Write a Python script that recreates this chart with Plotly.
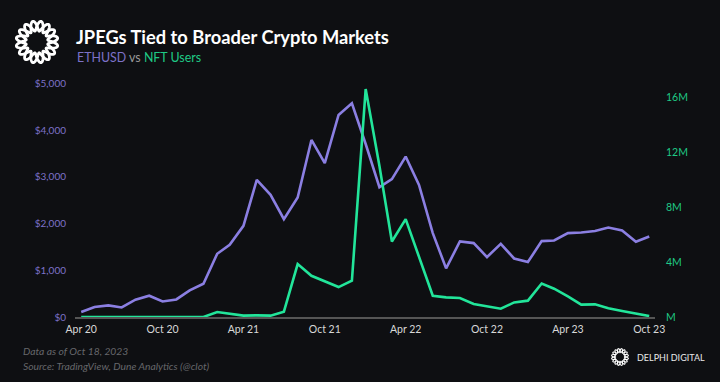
import numpy as np
import pandas as pd
import plotly.graph_objects as go

# ---------------- data ----------------
months = pd.date_range("2020-04-01", "2023-10-01", freq="MS")
eth_usd = [107, 214, 248, 205, 370, 455, 333, 376, 568, 711,
           1353, 1545, 1950, 2934, 2613, 2094, 2556, 3788, 3290, 4322,
           4572, 3700, 2778, 2949, 3432, 2827, 1795, 1040, 1615, 1581,
           1282, 1566, 1252, 1175, 1624, 1637, 1795, 1808, 1838, 1915,
           1850, 1609, 1722]
nft_users_m = [0, 0, 0, 0, 0, 0, 0, 0, 0, 0,
               0.36, 0.22, 0.10, 0.12, 0.10, 0.39, 3.85, 3.0, 2.6, 2.18,
               2.64, 16.6, 11.0, 5.5, 7.13, 4.33, 1.55, 1.43, 1.38, 0.95,
               0.77, 0.60, 1.06, 1.19, 2.44, 2.06, 1.50, 0.90, 0.92, 0.63,
               0.44, 0.26, 0.07]
nft_users = [v * 1e6 for v in nft_users_m]

x_tick_vals = ["2020-04-01", "2020-10-01", "2021-04-01", "2021-10-01",
               "2022-04-01", "2022-10-01", "2023-04-01", "2023-10-01"]
x_tick_text = ["Apr 20", "Oct 20", "Apr 21", "Oct 21", "Apr 22", "Oct 22", "Apr 23", "Oct 23"]
left_tick_vals = [0, 1000, 2000, 3000, 4000, 5000]
left_tick_text = ["$0", "$1,000", "$2,000", "$3,000", "$4,000", "$5,000"]
right_tick_vals = [0, 4e6, 8e6, 12e6, 16e6]
right_tick_text = ["M", "4M", "8M", "12M", "16M"]

# ---------------- style ----------------
BG = "#0e0f12"
PURPLE = "#8b7fe2"
PURPLE_TXT = "#7d72c8"
GREEN = "#22e59a"
GREEN_TXT = "#1fc985"
FONT = "Lato"

W, H = 720, 382
ML, MR, MT, MB = 75, 65, 80, 65
PW, PH = W - ML - MR, H - MT - MB

fig = go.Figure()
fig.add_trace(go.Scatter(x=months, y=eth_usd, mode="lines", name="ETHUSD",
                         line=dict(color=PURPLE, width=2.6)))
fig.add_trace(go.Scatter(x=months, y=nft_users, mode="lines", name="NFT Users",
                         yaxis="y2", line=dict(color=GREEN, width=2.6)))

fig.update_layout(
    width=W, height=H,
    margin=dict(l=ML, r=MR, t=MT, b=MB),
    paper_bgcolor=BG, plot_bgcolor=BG,
    showlegend=False,
    font=dict(family=FONT, color="#cfcfcf"),
    xaxis=dict(
        type="date",
        range=["2020-03-18", "2023-10-14"],
        tickvals=x_tick_vals, ticktext=x_tick_text,
        tickfont=dict(size=10.5, color="#d8d8d8"),
        showgrid=False, zeroline=False,
        showline=True, linecolor="#555555", linewidth=1.5,
        ticks="", ticklabelstandoff=2,
    ),
    yaxis=dict(
        range=[0, 5070],
        tickvals=left_tick_vals, ticktext=left_tick_text,
        tickfont=dict(size=10, color=PURPLE_TXT),
        showgrid=False, zeroline=False, showline=False, ticks="",
        ticklabelstandoff=8,
    ),
    yaxis2=dict(
        range=[0, 17.26e6], overlaying="y", side="right",
        tickvals=right_tick_vals, ticktext=right_tick_text,
        tickfont=dict(size=10.5, color=GREEN_TXT),
        showgrid=False, zeroline=False, showline=False, ticks="",
        ticklabelstandoff=10,
    ),
)

def px2paper(px, py):
    return (px - ML) / PW, (H - MB - py) / PH

# title & subtitle
tx, ty = px2paper(74, 37)
fig.add_annotation(x=tx, y=ty, xref="paper", yref="paper", xanchor="left", yanchor="middle",
                   text="<b>JPEGs Tied to Broader Crypto Markets</b>", showarrow=False,
                   font=dict(size=18.3, color="#ffffff", family=FONT))
sx, sy = px2paper(75, 57)
fig.add_annotation(x=sx, y=sy, xref="paper", yref="paper", xanchor="left", yanchor="middle",
                   text=f"<span style='color:{PURPLE_TXT}'>ETHUSD</span> vs "
                        f"<span style='color:{GREEN_TXT}'>NFT Users</span>",
                   showarrow=False, font=dict(size=12.4, color="#9a9a9a", family=FONT))

# footer
for txt, yy in [("Data as of Oct 18, 2023", 351), ("Source: TradingView, Dune Analytics (@clot)", 366)]:
    fx, fy = px2paper(21, yy)
    fig.add_annotation(x=fx, y=fy, xref="paper", yref="paper", xanchor="left", yanchor="middle",
                       text=f"<i>{txt}</i>", showarrow=False,
                       font=dict(size=10.3, color="#66676b", family=FONT))

dx, dy = px2paper(707, 357)
fig.add_annotation(x=dx, y=dy, xref="paper", yref="paper", xanchor="right", yanchor="middle",
                   text="DELPHI DIGITAL", showarrow=False,
                   font=dict(size=9, color="#e8e8e8", family=FONT))

# logo: interlaced ring built as two phase-shifted wavy loops
def ring_path(cx, cy, R, a, n, phase):
    t = np.linspace(0, 2 * np.pi, 240)
    r = R + a * np.sin(n * t + phase)
    xs = cx + r * np.cos(t)
    ys = cy + r * np.sin(t)
    pts = [px2paper(x, y) for x, y in zip(xs, ys)]
    return "M " + " L ".join(f"{p[0]:.5f},{p[1]:.5f}" for p in pts) + " Z"

for (cx, cy, R, a, w) in [(37, 42, 16, 5.0, 2.8), (620, 357, 6.5, 2.0, 1.1)]:
    for ph in (0, np.pi):
        fig.add_shape(type="path", xref="paper", yref="paper",
                      path=ring_path(cx, cy, R, a, 8, ph),
                      line=dict(color="#ffffff", width=w))

fig.write_html("out.html",
               config={"displayModeBar": False},
               post_script="document.body.style.margin='0';document.body.style.padding='0';"
                           "document.body.style.background='" + BG + "';")
